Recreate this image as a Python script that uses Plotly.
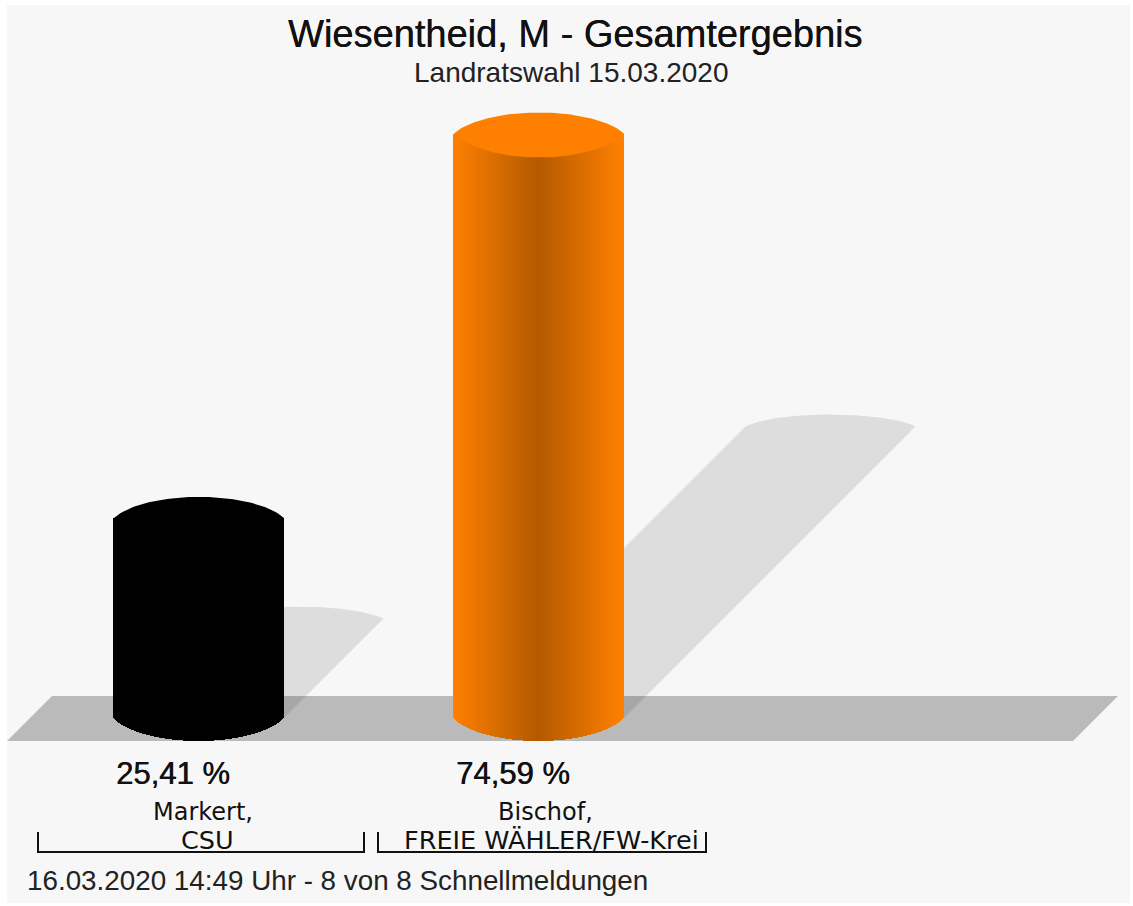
import numpy as np
import plotly.graph_objects as go

# Data
title = "Wiesentheid, M - Gesamtergebnis"
subtitle = "Landratswahl 15.03.2020"
footer = "16.03.2020 14:49 Uhr - 8 von 8 Schnellmeldungen"
candidates = ["Markert,", "Bischof,"]
parties = ["CSU", "FREIE WÄHLER/FW-Krei"]
shares = [25.41, 74.59]
bar_colors = [(0, 0, 0), (255, 128, 0)]

# Geometry: x axis is in page pixels; y axis is in percent
W, H = 1133, 906
BASE_PX = 718
PX_PER_PCT = 7.816
centers = [199, 539]
RX = 85
TOP_LIFT = 1.5 / PX_PER_PCT
CAP_UP = 21 / PX_PER_PCT
CAP_DOWN = 24 / PX_PER_PCT
BOTTOM_DROP = 23 / PX_PER_PCT
K = 0.93


def y_of(px):
    return (BASE_PX - px) / PX_PER_PCT


def hexc(c):
    return "#%02x%02x%02x" % tuple(int(round(v)) for v in c)


def lens(u):
    """Height of the clipped-ellipse arc: 1 at the axis, 0 at the silhouette edge."""
    edge = np.sqrt(1 - K ** 2)
    return (np.sqrt(np.clip(1 - (K * u) ** 2, 0, 1)) - edge) / (1 - edge)


fig = go.Figure()

# Floor (lower subplot layer)
fig.add_trace(go.Scatter(
    x=[7, 52, 1118, 1073, 7], y=[y_of(741), y_of(696), y_of(696), y_of(741), y_of(741)],
    mode="lines", line=dict(width=0), fill="toself", fillcolor="#bababa", hoverinfo="skip"))

# Shadows (sheared cylinders, half as tall as the bar, at 45 degrees)
us = np.linspace(-1, 1, 81)
for c, v in zip(centers, shares):
    sx = c + v * PX_PER_PCT / 2
    arc_x = sx + RX * us
    arc_y = v / 2 + (12 / PX_PER_PCT) * lens(us)
    xs = np.concatenate([[c - RX], arc_x, [c + RX, c - RX]])
    ys = np.concatenate([[0], arc_y, [0, 0]])
    fig.add_trace(go.Scatter(x=xs, y=ys, mode="lines", line=dict(width=0), fill="toself",
                             fillcolor="rgba(0,0,0,0.1)", hoverinfo="skip"))

# Cylinder bodies (overlay subplot): one narrow bar per pixel column, shaded towards the axis
for c, v, col in zip(centers, shares, bar_colors):
    xs = np.arange(c - RX, c + RX) + 0.5
    u = (xs - c) / RX
    bottoms = -BOTTOM_DROP * lens(u)
    shade = 0.70 + 0.30 * np.abs(u)
    colors = [hexc(np.array(col) * s) for s in shade]
    fig.add_trace(go.Bar(x=xs, y=v + TOP_LIFT - bottoms, base=bottoms, width=1.02,
                         marker=dict(color=colors, line=dict(width=0)), hoverinfo="skip",
                         xaxis="x2", yaxis="y2"))
    # Top cap
    cap_x = np.concatenate([c + RX * us, c + RX * us[::-1]])
    cap_y = np.concatenate([v + TOP_LIFT + CAP_UP * lens(us), v + TOP_LIFT - CAP_DOWN * lens(us[::-1])])
    fig.add_trace(go.Scatter(x=cap_x, y=cap_y, mode="lines", line=dict(width=0), fill="toself",
                             fillcolor=hexc(col), hoverinfo="skip", xaxis="x2", yaxis="y2"))

# Brackets under the candidates
bracket_spans = [(38, 364), (378, 706)]
for x0, x1 in bracket_spans:
    fig.add_trace(go.Scatter(x=[x0, x0, x1, x1], y=[y_of(832), y_of(852), y_of(852), y_of(832)],
                             mode="lines", line=dict(color="#111111", width=2), hoverinfo="skip",
                             xaxis="x2", yaxis="y2"))


def label(text, x, ypx, size, color="#111111", family="Liberation Sans", shadow=None):
    font = dict(family=family, size=size, color=color)
    if shadow:
        font["shadow"] = shadow
    fig.add_annotation(x=x, y=y_of(ypx), text=text, showarrow=False, xanchor="center", yanchor="middle",
                       font=font)


label(title, 574.5, 34, 38, shadow="0.3px 0 0 #111111")
label(subtitle, 570.5, 72, 28, "#222222")
for c, v, cand, party, lx, cx, px in zip(centers, shares, candidates, parties, [173, 513], [203, 545], [207, 551.5]):
    label(("%.2f %%" % v).replace(".", ","), lx, 773, 31, shadow="0.6px 0 0 #111111")
    label(cand, cx, 812, 24, family="DejaVu Sans")
    label(party, px, 840, 25.5, family="DejaVu Sans")
label(footer, 337.5, 880, 27.8, "#222222")

axis_x = dict(range=[0, W], visible=False, fixedrange=True)
axis_y = dict(range=[y_of(H), y_of(0)], visible=False, fixedrange=True)
fig.update_layout(
    width=W, height=H, margin=dict(l=0, r=0, t=0, b=0),
    paper_bgcolor="white", plot_bgcolor="rgba(0,0,0,0)",
    showlegend=False, barmode="overlay", bargap=0,
    xaxis=axis_x, yaxis=axis_y,
    xaxis2=dict(axis_x, overlaying="x"), yaxis2=dict(axis_y, overlaying="y"),
    shapes=[dict(type="rect", xref="paper", yref="paper", x0=7 / W, x1=1130 / W,
                 y0=1 - 903 / H, y1=1 - 5 / H, fillcolor="#f7f7f7", line=dict(width=0), layer="below")],
)

fig.write_html("out.html", config=dict(displayModeBar=False),
               post_script="document.body.style.margin='0';document.body.style.overflow='hidden';")
